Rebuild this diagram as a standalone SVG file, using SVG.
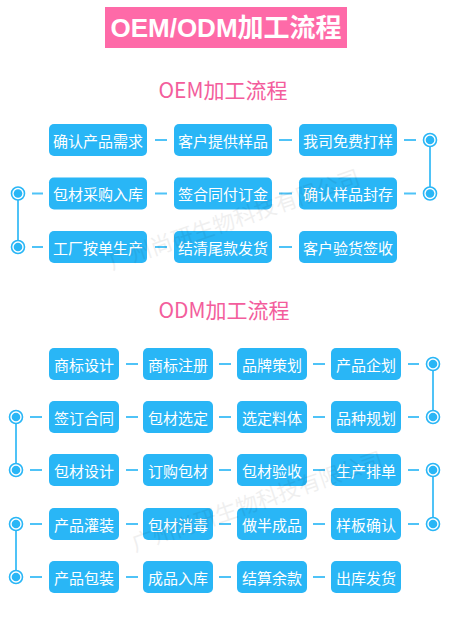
<svg xmlns="http://www.w3.org/2000/svg" width="450" height="630" viewBox="0 0 450 630">
<style>
.bx{fill:#29b6f6}
.bt{fill:#fff;font-family:"Noto Sans CJK SC","Noto Sans",sans-serif;font-size:15px;text-anchor:middle;dominant-baseline:central}
.ln{stroke:#4fc3f7;stroke-width:2;fill:none}
.ring{fill:#fff;stroke:#29b6f6;stroke-width:1.6}
.dot{fill:#29b6f6}
.ttl{fill:#f35d9c;font-family:"Noto Sans CJK SC","Noto Sans",sans-serif;font-size:21px;text-anchor:middle}
.wm{fill:#000;opacity:0.06;font-family:"Noto Sans CJK SC",sans-serif;font-size:22px}
</style>
<defs>
<g id="c"><circle class="ring" r="6.5"/><circle class="dot" r="4.3"/></g>
</defs>
<rect width="450" height="630" fill="#fff"/>
<g id="header">
<rect x="105" y="7" width="242" height="41" fill="#fe6aa8"/>
<text x="226" y="37" fill="#fff" font-family="Liberation Sans,Noto Sans CJK SC,sans-serif" font-size="26" font-weight="bold" text-anchor="middle">OEM/ODM加工流程</text>
</g>
<text class="ttl" x="223" y="98">OEM加工流程</text>
<text class="ttl" x="224" y="318">ODM加工流程</text>
<g id="connectors">
<path class="ln" d="M155 140H167M279 140H292M404 140H416M430 147V187M32 193.5H43M167 193.5H155M279 193.5H292M404 193.5H416M18 200V240M32 247H43M155 247H167M279 247H292"/>
<path class="ln" d="M126 364H138M219 364H231M313 364H325M408 364H419M433 371V410M30 417H42M126 417H138M219 417H231M313 417H325M408 417H419M16 424V463M30 470H42M126 470H138M219 470H231M313 470H325M408 470H419M433 477V517M30 524H42M126 524H138M219 524H231M313 524H325M408 524H419M16 531V570M30 577H42M126 577H138M219 577H231M313 577H325"/>
<use href="#c" x="430" y="140"/><use href="#c" x="430" y="193.5"/>
<use href="#c" x="18" y="193.5"/><use href="#c" x="18" y="247"/>
<use href="#c" x="433" y="364"/><use href="#c" x="433" y="417"/>
<use href="#c" x="16" y="417"/><use href="#c" x="16" y="470"/>
<use href="#c" x="433" y="470"/><use href="#c" x="433" y="524"/>
<use href="#c" x="16" y="524"/><use href="#c" x="16" y="577"/>
</g>
<g id="oem1"><rect class="bx" x="49" y="124" width="98" height="32" rx="5"/><text class="bt" x="98" y="140">确认产品需求</text></g>
<g id="oem2"><rect class="bx" x="174" y="124" width="98" height="32" rx="5"/><text class="bt" x="223" y="140">客户提供样品</text></g>
<g id="oem3"><rect class="bx" x="299" y="124" width="98" height="32" rx="5"/><text class="bt" x="348" y="140">我司免费打样</text></g>
<g id="oem4"><rect class="bx" x="49" y="177.5" width="98" height="32" rx="5"/><text class="bt" x="98" y="193.5">包材采购入库</text></g>
<g id="oem5"><rect class="bx" x="174" y="177.5" width="98" height="32" rx="5"/><text class="bt" x="223" y="193.5">签合同付订金</text></g>
<g id="oem6"><rect class="bx" x="299" y="177.5" width="98" height="32" rx="5"/><text class="bt" x="348" y="193.5">确认样品封存</text></g>
<g id="oem7"><rect class="bx" x="49" y="231" width="98" height="32" rx="5"/><text class="bt" x="98" y="247">工厂按单生产</text></g>
<g id="oem8"><rect class="bx" x="174" y="231" width="98" height="32" rx="5"/><text class="bt" x="223" y="247">结清尾款发货</text></g>
<g id="oem9"><rect class="bx" x="299" y="231" width="98" height="32" rx="5"/><text class="bt" x="348" y="247">客户验货签收</text></g>

<g id="odm1"><rect class="bx" x="49" y="348" width="70" height="32" rx="5"/><text class="bt" x="84" y="364">商标设计</text></g>
<g id="odm2"><rect class="bx" x="143" y="348" width="70" height="32" rx="5"/><text class="bt" x="178" y="364">商标注册</text></g>
<g id="odm3"><rect class="bx" x="237" y="348" width="70" height="32" rx="5"/><text class="bt" x="272" y="364">品牌策划</text></g>
<g id="odm4"><rect class="bx" x="331" y="348" width="70" height="32" rx="5"/><text class="bt" x="366" y="364">产品企划</text></g>
<g id="odm5"><rect class="bx" x="49" y="401" width="70" height="32" rx="5"/><text class="bt" x="84" y="417">签订合同</text></g>
<g id="odm6"><rect class="bx" x="143" y="401" width="70" height="32" rx="5"/><text class="bt" x="178" y="417">包材选定</text></g>
<g id="odm7"><rect class="bx" x="237" y="401" width="70" height="32" rx="5"/><text class="bt" x="272" y="417">选定料体</text></g>
<g id="odm8"><rect class="bx" x="331" y="401" width="70" height="32" rx="5"/><text class="bt" x="366" y="417">品种规划</text></g>
<g id="odm9"><rect class="bx" x="49" y="454" width="70" height="32" rx="5"/><text class="bt" x="84" y="470">包材设计</text></g>
<g id="odm10"><rect class="bx" x="143" y="454" width="70" height="32" rx="5"/><text class="bt" x="178" y="470">订购包材</text></g>
<g id="odm11"><rect class="bx" x="237" y="454" width="70" height="32" rx="5"/><text class="bt" x="272" y="470">包材验收</text></g>
<g id="odm12"><rect class="bx" x="331" y="454" width="70" height="32" rx="5"/><text class="bt" x="366" y="470">生产排单</text></g>
<g id="odm13"><rect class="bx" x="49" y="508" width="70" height="32" rx="5"/><text class="bt" x="84" y="524">产品灌装</text></g>
<g id="odm14"><rect class="bx" x="143" y="508" width="70" height="32" rx="5"/><text class="bt" x="178" y="524">包材消毒</text></g>
<g id="odm15"><rect class="bx" x="237" y="508" width="70" height="32" rx="5"/><text class="bt" x="272" y="524">做半成品</text></g>
<g id="odm16"><rect class="bx" x="331" y="508" width="70" height="32" rx="5"/><text class="bt" x="366" y="524">样板确认</text></g>
<g id="odm17"><rect class="bx" x="49" y="561" width="70" height="32" rx="5"/><text class="bt" x="84" y="577">产品包装</text></g>
<g id="odm18"><rect class="bx" x="143" y="561" width="70" height="32" rx="5"/><text class="bt" x="178" y="577">成品入库</text></g>
<g id="odm19"><rect class="bx" x="237" y="561" width="70" height="32" rx="5"/><text class="bt" x="272" y="577">结算余款</text></g>
<g id="odm20"><rect class="bx" x="331" y="561" width="70" height="32" rx="5"/><text class="bt" x="366" y="577">出库发货</text></g>

<text class="wm" transform="translate(112,270) rotate(-19)">广州尚研生物科技有限公司</text>
<text class="wm" transform="translate(135,552) rotate(-19)">广州尚研生物科技有限公司</text>
</svg>
